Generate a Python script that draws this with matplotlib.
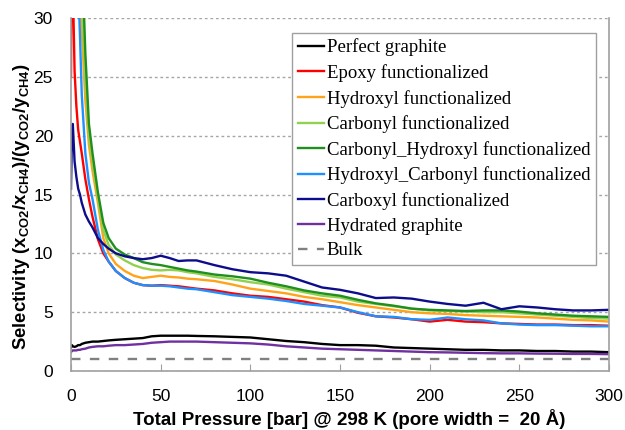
import matplotlib
matplotlib.use("Agg")
import matplotlib.pyplot as plt

# Pressure grid [bar]
pressure = [0, 0.5, 1, 2, 3, 4, 5, 6, 8, 10, 12, 15, 18, 21, 25, 30, 35, 40, 45, 50,
            55, 60, 65, 70, 80, 90, 100, 110, 120, 130, 140, 150, 160, 170, 180, 190,
            200, 210, 220, 230, 240, 250, 260, 270, 280, 290, 300]

perfect = [2.0, 2.2, 2.1, 2.05, 2.1, 2.2, 2.2, 2.3, 2.4, 2.45, 2.5, 2.5, 2.55, 2.6, 2.65,
           2.7, 2.75, 2.8, 2.95, 3.0, 3.0, 3.0, 3.0, 2.98, 2.95, 2.9, 2.85, 2.7, 2.55, 2.45,
           2.3, 2.2, 2.2, 2.15, 2.0, 1.95, 1.9, 1.85, 1.8, 1.8, 1.75, 1.75, 1.7, 1.7, 1.65,
           1.65, 1.6]
epoxy = [25, 45, 33, 25.5, 22.5, 20.5, 19.5, 18.5, 16.3, 14.6, 13.1, 11.2, 10.0, 9.3, 8.5,
         7.9, 7.5, 7.3, 7.25, 7.3, 7.25, 7.2, 7.1, 7.0, 6.85, 6.6, 6.4, 6.3, 6.1, 5.9, 5.6,
         5.4, 4.95, 4.65, 4.55, 4.4, 4.2, 4.35, 4.2, 4.15, 4.05, 4.0, 3.95, 3.95, 3.9, 3.9,
         3.85]
hydroxyl = [45, 45, 45, 45, 42, 37, 33, 29, 23, 19.2, 17.0, 14.3, 11.3, 10.0, 9.1, 8.5,
            8.1, 7.9, 8.0, 8.1, 8.0, 7.95, 7.85, 7.8, 7.65, 7.35, 7.0, 6.8, 6.6, 6.3, 6.1,
            5.85, 5.6, 5.4, 5.2, 5.0, 4.9, 4.85, 4.75, 4.7, 4.65, 4.6, 4.55, 4.45, 4.35,
            4.3, 4.2]
carbonyl = [45, 45, 45, 45, 44, 40, 36, 32, 25, 20, 17.8, 14.8, 12.0, 10.7, 9.9, 9.4, 9.0,
            8.75, 8.6, 8.55, 8.6, 8.55, 8.4, 8.3, 8.0, 7.8, 7.55, 7.35, 7.0, 6.7, 6.4, 6.25,
            5.9, 5.7, 5.5, 5.3, 5.15, 5.1, 5.05, 5.0, 5.0, 4.9, 4.8, 4.7, 4.6, 4.5, 4.45]
carbonyl_hydroxyl = [45, 45, 45, 45, 45, 44, 40, 36, 27, 21, 18.5, 15.2, 12.6, 11.3, 10.4,
                     9.9, 9.6, 9.25, 9.1, 9.0, 8.85, 8.7, 8.55, 8.45, 8.2, 8.05, 7.85, 7.5,
                     7.2, 6.85, 6.6, 6.4, 6.05, 5.75, 5.55, 5.3, 5.2, 5.15, 5.1, 5.15, 5.15,
                     5.05, 4.9, 4.8, 4.7, 4.65, 4.6]
hydroxyl_carbonyl = [45, 45, 45, 42, 38, 33, 28.5, 23.5, 18.5, 16.0, 14.6, 12.0, 10.3, 9.3,
                     8.5, 7.9, 7.5, 7.3, 7.25, 7.25, 7.2, 7.1, 7.0, 6.95, 6.7, 6.45, 6.3,
                     6.15, 5.95, 5.7, 5.55, 5.4, 5.0, 4.65, 4.6, 4.4, 4.35, 4.55, 4.4, 4.3,
                     4.05, 3.95, 3.9, 3.9, 3.85, 3.8, 3.8]
carboxyl = [15.5, 20, 21, 17.8, 16.5, 15.5, 15.0, 14.3, 13.3, 12.7, 12.2, 11.3, 10.8, 10.4,
            10.0, 9.75, 9.6, 9.5, 9.6, 9.8, 9.6, 9.35, 9.4, 9.4, 9.0, 8.65, 8.4, 8.3, 8.1,
            7.6, 7.1, 6.9, 6.6, 6.2, 6.25, 6.15, 5.9, 5.7, 5.55, 5.8, 5.25, 5.5, 5.4, 5.25,
            5.15, 5.15, 5.2]
hydrated = [1.6, 1.7, 1.75, 1.75, 1.75, 1.8, 1.8, 1.85, 1.9, 2.0, 2.05, 2.1, 2.1, 2.15, 2.2,
            2.2, 2.25, 2.3, 2.4, 2.45, 2.5, 2.5, 2.5, 2.5, 2.45, 2.4, 2.35, 2.25, 2.1, 2.0,
            1.9, 1.85, 1.8, 1.75, 1.7, 1.65, 1.6, 1.58, 1.55, 1.52, 1.5, 1.5, 1.48, 1.47,
            1.45, 1.45, 1.43]
bulk_p = [0, 300]
bulk = [1.0, 1.0]

series = [
    ("Perfect graphite", perfect, "black"),
    ("Epoxy functionalized", epoxy, "#ff0000"),
    ("Hydroxyl functionalized", hydroxyl, "#ffa31a"),
    ("Carbonyl functionalized", carbonyl, "#92d050"),
    ("Carbonyl_Hydroxyl functionalized", carbonyl_hydroxyl, "#1f8f1f"),
    ("Hydroxyl_Carbonyl functionalized", hydroxyl_carbonyl, "#1e90ff"),
    ("Carboxyl functionalized", carboxyl, "#0d0d8c"),
    ("Hydrated graphite", hydrated, "#7030a0"),
]

plt.rcParams['mathtext.fontset'] = 'custom'
plt.rcParams['mathtext.rm'] = 'Liberation Sans:bold'
plt.rcParams['mathtext.it'] = 'Liberation Sans:bold'
plt.rcParams['mathtext.bf'] = 'Liberation Sans:bold'

fig = plt.figure(figsize=(6.25, 4.3), dpi=100)
ax = fig.add_axes([0.1136, 0.1372, 0.8608, 0.8208])

for name, vals, col in series:
    ax.plot(pressure, vals, color=col, lw=1.7, label=name)
ax.plot(bulk_p, bulk, color="#808080", lw=1.7, ls=(0, (4, 4)), label="Bulk")

ax.set_xlim(0, 300)
ax.set_ylim(0, 30)
ax.set_xticks(range(0, 301, 50))
ax.set_yticks(range(0, 31, 5))
ax.yaxis.grid(True, color="#a6a6a6", ls=(0, (2, 2)), lw=1)
ax.set_axisbelow(True)

for s in ["left", "bottom", "right"]:
    ax.spines[s].set_color("#a0a0a0")
    ax.spines[s].set_linewidth(1.2)
ax.spines["top"].set_visible(False)

ax.tick_params(axis="x", direction="in", length=5, color="#a0a0a0", pad=13,
               labelsize=12.5)
ax.tick_params(axis="y", direction="in", length=0, pad=13, labelsize=12.5)
for lab in ax.get_xticklabels() + ax.get_yticklabels():
    lab.set_fontfamily("Liberation Sans")

ax.set_xlabel("Total Pressure [bar] @ 298 K (pore width =  20 Å)",
              fontfamily="Liberation Sans", fontweight="bold", fontsize=13.5)
ax.xaxis.set_label_coords(0.517, -0.108)
ax.set_ylabel(r"Selectivity (x$_{\mathrm{CO2}}$/x$_{\mathrm{CH4}}$)/(y$_{\mathrm{CO2}}$/y$_{\mathrm{CH4}}$)",
              fontfamily="Liberation Sans", fontweight="bold", fontsize=13.3)
ax.yaxis.set_label_coords(-0.073, 0.465)

leg = ax.legend(loc="upper left", bbox_to_anchor=(0.411, 0.958), frameon=True,
                fancybox=False, shadow=False, framealpha=1, edgecolor="#a0a0a0",
                prop={"family": "Liberation Serif", "size": 13.5}, handlelength=1.4,
                handletextpad=0.15, labelspacing=0.41, borderpad=0.3, borderaxespad=0)
leg.get_frame().set_linewidth(1.0)

fig.savefig("out.png", dpi=100)
